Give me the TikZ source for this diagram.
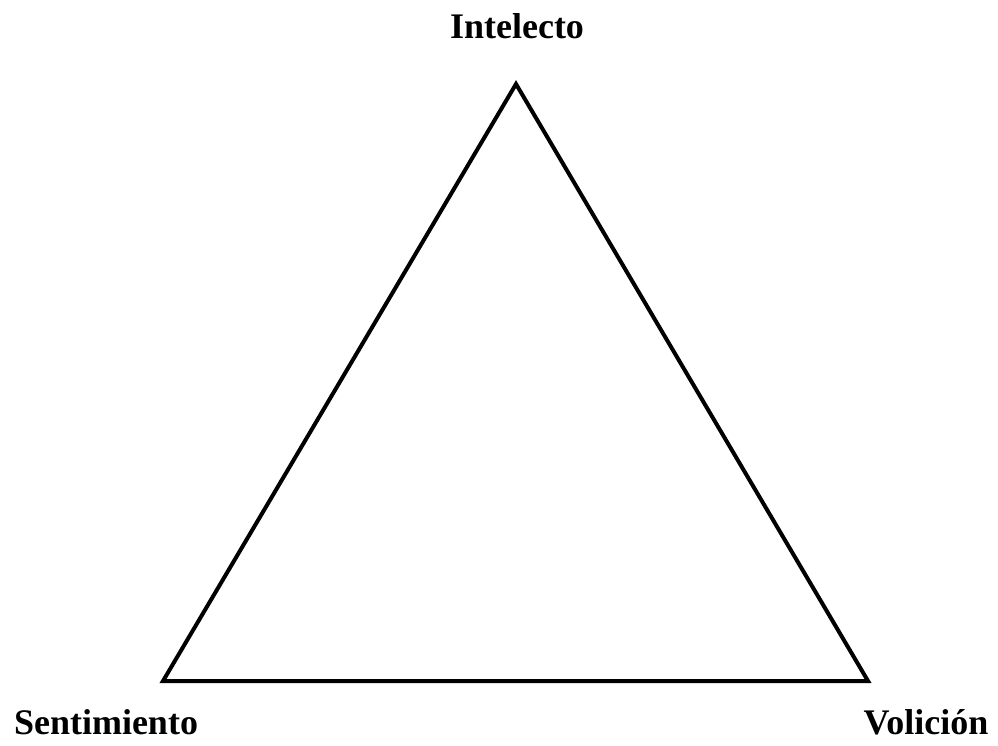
\documentclass[tikz,border=0pt]{standalone}
\usepackage{fontspec}
\setmainfont{Liberation Serif}
\usepackage{tikz}
\usetikzlibrary{calc, positioning}

\begin{document}
\begin{tikzpicture}[
  x=0.75pt, y=-0.75pt,
  side/.style={draw=black, line width=3pt, line join=miter},
  vlabel/.style={font=\fontsize{27}{32}\selectfont\bfseries, inner sep=0pt, anchor=base},
]
\useasboundingbox (0,0) rectangle (998,745);

\coordinate (top) at (516,84);
\coordinate (left) at (163,681);
\coordinate (right) at (868,681);

\draw[side] (top) -- (left) -- (right) -- cycle;

\node[vlabel] (intelecto) at (517,39) {Intelecto};
\node[vlabel] (sentimiento) at (106,734) {Sentimiento};
\node[vlabel] (volicion) at (926,734) {Volición};
\end{tikzpicture}
\end{document}
